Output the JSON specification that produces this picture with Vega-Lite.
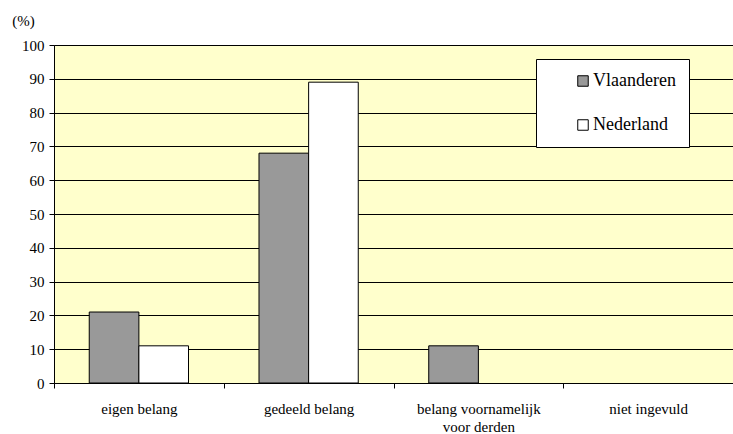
{
  "$schema": "https://vega.github.io/schema/vega-lite/v6.json",
  "autosize": {"type": "none"},
  "padding": {"left": 54, "top": 45, "right": 0, "bottom": 51},
  "width": 679,
  "height": 338,
  "background": "white",
  "config": {
    "font": "Liberation Serif, Times New Roman, serif",
    "axis": {"labelFont": "Liberation Serif, Times New Roman, serif", "titleFont": "Liberation Serif, Times New Roman, serif"},
    "legend": {"labelFont": "Liberation Serif, Times New Roman, serif"},
    "view": {"fill": "#FFFFCC", "stroke": "#808080", "strokeWidth": 1}
  },
  "data": {
    "values": [
      {"categorie": "eigen belang", "regio": "Vlaanderen", "pct": 21},
      {"categorie": "eigen belang", "regio": "Nederland", "pct": 11},
      {"categorie": "gedeeld belang", "regio": "Vlaanderen", "pct": 68},
      {"categorie": "gedeeld belang", "regio": "Nederland", "pct": 89},
      {"categorie": "belang voornamelijk voor derden", "regio": "Vlaanderen", "pct": 11},
      {"categorie": "belang voornamelijk voor derden", "regio": "Nederland", "pct": 0},
      {"categorie": "niet ingevuld", "regio": "Vlaanderen", "pct": 0},
      {"categorie": "niet ingevuld", "regio": "Nederland", "pct": 0}
    ]
  },
  "transform": [{"filter": "datum.pct > 0"}],
  "mark": {"type": "bar", "stroke": "black", "strokeWidth": 1},
  "encoding": {
    "x": {
      "field": "categorie",
      "type": "nominal",
      "sort": ["eigen belang", "gedeeld belang", "belang voornamelijk voor derden", "niet ingevuld"],
      "scale": {
        "domain": ["eigen belang", "gedeeld belang", "belang voornamelijk voor derden", "niet ingevuld"],
        "paddingInner": 0,
        "paddingOuter": 0
      },
      "axis": {
        "title": null,
        "labelAngle": 0,
        "labelFontSize": 15,
        "labelColor": "black",
        "labelPadding": 13,
        "labelLineHeight": 18,
        "labelBaseline": "top",
        "tickBand": "extent",
        "tickColor": "black",
        "tickSize": 5,
        "domainColor": "black",
        "labelExpr": "datum.label == 'belang voornamelijk voor derden' ? ['belang voornamelijk', 'voor derden'] : datum.label"
      }
    },
    "xOffset": {
      "field": "regio",
      "type": "nominal",
      "sort": ["Vlaanderen", "Nederland"],
      "scale": {"paddingInner": 0, "paddingOuter": 0.71}
    },
    "y": {
      "field": "pct",
      "type": "quantitative",
      "scale": {"domain": [0, 100], "nice": false},
      "axis": {
        "values": [0, 10, 20, 30, 40, 50, 60, 70, 80, 90, 100],
        "title": "(%)",
        "titleAngle": 0,
        "titleX": -31,
        "titleY": -25,
        "titleAlign": "center",
        "titleBaseline": "middle",
        "titleFontSize": 15,
        "titleFontWeight": "normal",
        "titleColor": "black",
        "labelFontSize": 15,
        "labelColor": "black",
        "labelPadding": 5,
        "tickColor": "black",
        "tickSize": 5,
        "domainColor": "black",
        "gridColor": "black",
        "gridWidth": 1,
        "gridOpacity": 1
      }
    },
    "fill": {
      "field": "regio",
      "type": "nominal",
      "sort": ["Vlaanderen", "Nederland"],
      "scale": {"domain": ["Vlaanderen", "Nederland"], "range": ["#999999", "#FFFFFF"]},
      "legend": {
        "title": null,
        "orient": "none",
        "legendX": 482,
        "legendY": 14,
        "fillColor": "white",
        "strokeColor": "black",
        "padding": 13,
        "symbolType": "square",
        "symbolSize": 110,
        "symbolStrokeColor": "black",
        "symbolStrokeWidth": 1,
        "symbolOffset": 25,
        "labelFontSize": 18,
        "labelColor": "black",
        "labelOffset": 1,
        "rowPadding": 26,
        "labelLimit": 200
      }
    }
  }
}
